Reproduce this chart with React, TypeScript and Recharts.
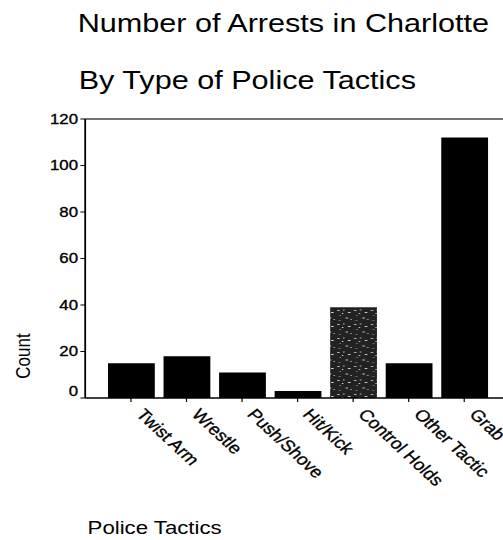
import { BarChart, Bar, XAxis, YAxis, Cell, ReferenceLine } from 'recharts';

const tactics = [
  'Twist Arm',
  'Wrestle',
  'Push/Shove',
  'Hit/Kick',
  'Control Holds',
  'Other Tactic',
  'Grab',
];
const counts = [15, 18, 11, 3, 39, 15, 112];
const countTicks = [0, 20, 40, 60, 80, 100, 120];

const data = tactics.map((name, i) => ({ name, count: counts[i] }));

const FONT = '"Liberation Sans", Arial, sans-serif';
// the scanned original is stretched sideways, so draw narrow and widen it
const STRETCH = 1.2;

function CountTick({ x, y, payload }: any) {
  // zero label sits a bit above its tick in the original
  const lift = payload.value === 0 ? -7 : 0;
  return (
    <text
      x={x}
      y={y + lift}
      dy="0.355em"
      textAnchor="end"
      fontSize={14}
      fontFamily={FONT}
      fill="#000"
      stroke="#000"
      strokeWidth={0.35}
    >
      {payload.value}
    </text>
  );
}

function TacticTick({ x, y, payload }: any) {
  return (
    <text
      transform={`translate(${x + 3.5},${y + 11}) rotate(48)`}
      fontSize={16}
      fontFamily={FONT}
      fill="#000"
      stroke="#000"
      strokeWidth={0.3}
    >
      {payload.value}
    </text>
  );
}

export default function App() {
  return (
    <div
      style={{
        position: 'absolute',
        left: 0,
        top: 0,
        width: 503,
        height: 540,
        overflow: 'hidden',
        background: '#fff',
      }}
    >
      <svg width={0} height={0} style={{ position: 'absolute' }}>
        <defs>
          <pattern id="speckle" patternUnits="userSpaceOnUse" width={14} height={14}>
            <rect width={14} height={14} fill="#222" />
            <rect x={1} y={2} width={2} height={1} fill="#bbb" />
            <rect x={6} y={1} width={1} height={2} fill="#888" />
            <rect x={10} y={4} width={2} height={1} fill="#ddd" />
            <rect x={3} y={7} width={1} height={1} fill="#999" />
            <rect x={8} y={9} width={2} height={2} fill="#777" />
            <rect x={12} y={11} width={1} height={1} fill="#ccc" />
            <rect x={2} y={12} width={2} height={1} fill="#666" />
            <rect x={5} y={5} width={1} height={1} fill="#eee" />
          </pattern>
        </defs>
      </svg>
      <div
        style={{
          position: 'absolute',
          left: 0,
          top: 0,
          width: 440,
          height: 540,
          transform: `scaleX(${STRETCH})`,
          transformOrigin: '0 0',
        }}
      >
        <BarChart
          width={440}
          height={540}
          data={data}
          margin={{ top: 119, right: 0, bottom: 0, left: 11 }}
          barSize={39}
        >
          <XAxis
            dataKey="name"
            height={142}
            interval={0}
            padding={{ left: 15, right: 30 }}
            tickSize={4}
            tick={<TacticTick />}
            axisLine={{ stroke: '#000', strokeWidth: 1.5 }}
            tickLine={{ stroke: '#000' }}
          />
          <YAxis
            width={60}
            domain={[0, 120]}
            ticks={countTicks}
            tickSize={4}
            tick={<CountTick />}
            axisLine={{ stroke: '#000', strokeWidth: 1.5 }}
            tickLine={{ stroke: '#000' }}
          />
          <ReferenceLine y={120} stroke="#444" strokeWidth={1.5} />
          <Bar dataKey="count" isAnimationActive={false}>
            {data.map((entry, index) => (
              <Cell
                key={`cell-${index}`}
                fill={entry.name === 'Control Holds' ? 'url(#speckle)' : '#000'}
              />
            ))}
          </Bar>
        </BarChart>
        <svg
          width={440}
          height={540}
          style={{ position: 'absolute', left: 0, top: 0, pointerEvents: 'none' }}
        >
          <text x={64.7} y={32} fontSize={25.5} fontFamily={FONT} fill="#000">
            Number of Arrests in Charlotte
          </text>
          <text x={65.6} y={89} fontSize={25.5} fontFamily={FONT} fill="#000">
            By Type of Police Tactics
          </text>
          <text
            transform="translate(25,356) rotate(-90)"
            textAnchor="middle"
            fontSize={17}
            fontFamily={FONT}
            fill="#000"
          >
            Count
          </text>
          <text x={73} y={534} fontSize={18.5} fontFamily={FONT} fill="#000">
            Police Tactics
          </text>
        </svg>
      </div>
    </div>
  );
}
